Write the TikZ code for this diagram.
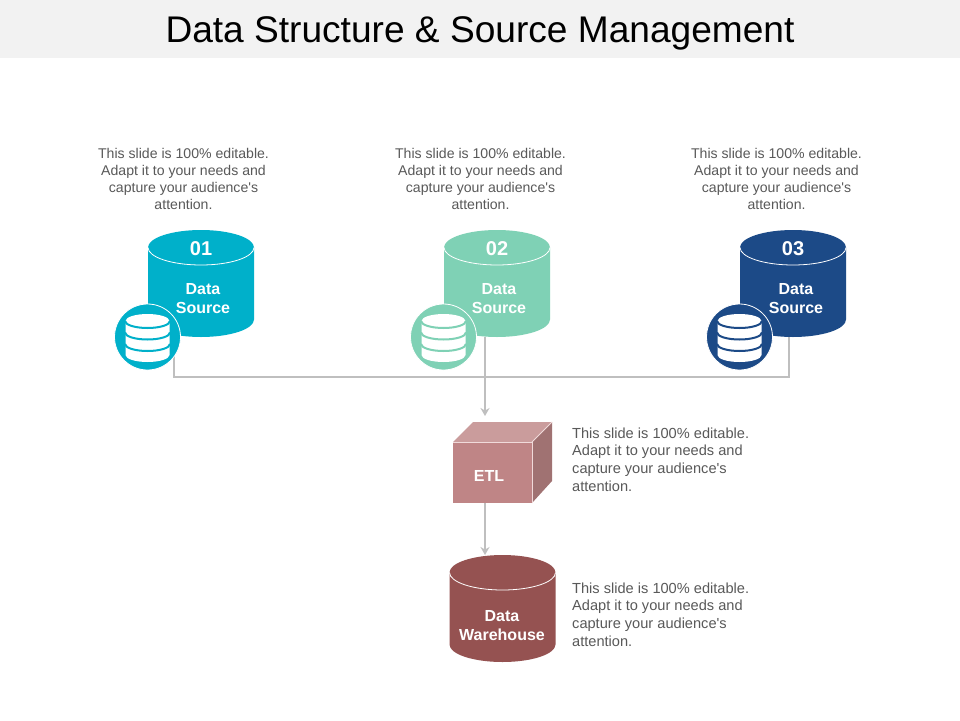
\documentclass[tikz,border=0pt]{standalone}
\usepackage{fontspec}
\setmainfont{Liberation Sans}
\usetikzlibrary{arrows.meta}

\definecolor{bandgray}{HTML}{F2F2F2}
\definecolor{bodygray}{HTML}{595959}
\definecolor{linkgray}{HTML}{BFBFBF}
\definecolor{srcteal}{HTML}{00B0CA}
\definecolor{srcmint}{HTML}{7FD1B5}
\definecolor{srcnavy}{HTML}{1C4A87}
\definecolor{whbrick}{HTML}{955251}
\definecolor{etlfront}{HTML}{BF8586}
\definecolor{etltop}{HTML}{CA9C9C}
\definecolor{etlside}{HTML}{A07272}
\definecolor{etlrim}{HTML}{F0DADA}

\newcommand{\blurbtext}{This slide is 100\% editable.\\Adapt it to your needs and\\capture your audience\textquotesingle s\\attention.}

\tikzset{
    blurbmid/.style={text=bodygray, align=center, font=\fontsize{14.1}{17}\selectfont},
    blurbleft/.style={text=bodygray, align=left, anchor=west, inner sep=0pt, font=\fontsize{14.6}{17.6}\selectfont},
    boxlabel/.style={text=white, align=center, font=\fontsize{16}{19}\selectfont\bfseries},
    numlabel/.style={text=white, font=\fontsize{20}{24}\selectfont\bfseries},
    cylbox/.style={minimum width=106pt, minimum height=107pt, inner sep=0pt, outer sep=0pt},
    link/.style={draw=linkgray, line width=1.7pt},
    linkarrow/.style={link, -{Stealth[length=8pt,width=9pt]}}
}

% cylinder: name, centre x, centre y, colour
\newcommand{\dbcyl}[4]{
    \node[cylbox] (#1) at (#2,#3) {};
    \fill[#4] ([yshift=-17.5pt]#1.north west) -- ([yshift=17.5pt]#1.south west)
        arc[start angle=180, end angle=0, x radius=53, y radius=17.5]
        -- ([yshift=-17.5pt]#1.north east)
        arc[start angle=0, end angle=-180, x radius=53, y radius=17.5] -- cycle;
    \draw[white, line width=0.8pt] ([yshift=-17.5pt]#1.north west)
        arc[start angle=180, end angle=0, x radius=53, y radius=17.5];
}

% round badge with a stack of disks: name, centre x, centre y, colour
\newcommand{\dbbadge}[4]{
    \node[circle, fill=#4, draw=white, line width=0.8pt, minimum size=66pt, inner sep=0pt] (#1) at (#2,#3) {};
    \fill[white] (#2-22,321) -- (#2-22,355)
        arc[start angle=180, end angle=0, x radius=22, y radius=7]
        -- (#2+22,321)
        arc[start angle=0, end angle=-180, x radius=22, y radius=7] -- cycle;
    \foreach \ylev in {321,332.5,344}
        \draw[#4, line width=2pt] (#2-22.5,\ylev) arc[start angle=180, end angle=0, x radius=22.5, y radius=7];
}

\begin{document}
\begin{tikzpicture}[x=1pt, y=-1pt]
    \useasboundingbox (0,0) rectangle (960,720);
    \fill[white] (0,0) rectangle (960,720);
    \fill[bandgray] (0,0) rectangle (960,58);
    \node[font=\fontsize{37.1}{40}\selectfont, text=black] (title) at (480,33.5) {Data Structure \& Source Management};

    % top row
    \node[blurbmid] (noteA) at (183.5,179) {\blurbtext};
    \node[blurbmid] (noteB) at (480.5,179) {\blurbtext};
    \node[blurbmid] (noteC) at (776.5,179) {\blurbtext};

    \dbcyl{srcA}{201}{283.5}{srcteal}
    \dbcyl{srcB}{497}{283.5}{srcmint}
    \dbcyl{srcC}{793}{283.5}{srcnavy}

    \node[numlabel] (numA) at (201,248.5) {01};
    \node[numlabel] (numB) at (497,248.5) {02};
    \node[numlabel] (numC) at (793,248.5) {03};
    \node[boxlabel] (lblA) at (203,298.5) {Data\\Source};
    \node[boxlabel] (lblB) at (499,298.5) {Data\\Source};
    \node[boxlabel] (lblC) at (796,298.5) {Data\\Source};

    % cube
    \node[fill=etlfront, minimum width=79pt, minimum height=61pt, inner sep=0pt, outer sep=0pt] (etl) at (492.5,472.5) {};
    \fill[etltop] (etl.north west) -- (473,422) -- (552,422) -- (etl.north east) -- cycle;
    \fill[etlside] (etl.north east) -- (552,422) -- (552,481) -- (etl.south east) -- cycle;
    \draw[etlrim, line width=0.8pt] (etl.north west) -- (etl.north east) -- (etl.south east);
    \draw[etlrim, line width=0.8pt] (etl.north east) -- (552,422);
    \node[boxlabel] (lblETL) at (489,475.5) {ETL};
    \node[blurbleft] (noteETL) at (572,459.5) {\blurbtext};

    % warehouse
    \dbcyl{wh}{502.5}{608.5}{whbrick}
    \node[boxlabel] (lblWH) at (502,625.5) {Data\\Warehouse};
    \node[blurbleft] (noteWH) at (572,614.5) {\blurbtext};

    % links
    \coordinate (busL) at (174,377);
    \coordinate (busM) at (485,377);
    \coordinate (busR) at (789,377);
    \coordinate (etlIn) at (485,416);
    \draw[link] (busL |- srcA.south) -- (busL) -- (busR) -- (busR |- srcC.south);
    \draw[linkarrow] (busM |- srcB.south) -- (etlIn);
    \draw[linkarrow] (busM |- etl.south) -- (busM |- wh.north);

    % badges go over the links
    \dbbadge{iconA}{147.5}{337}{srcteal}
    \dbbadge{iconB}{443.5}{337}{srcmint}
    \dbbadge{iconC}{739.5}{337}{srcnavy}
\end{tikzpicture}
\end{document}
